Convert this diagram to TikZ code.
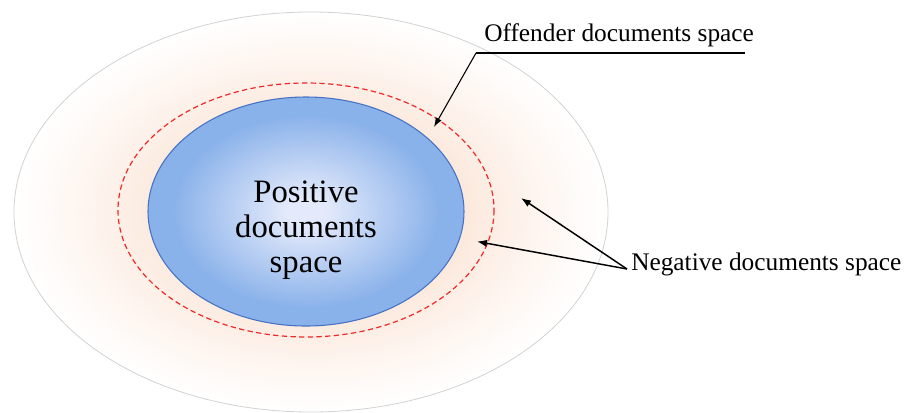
\documentclass[tikz,border=0pt]{standalone}
\usepackage{fontspec}
\setmainfont{Liberation Serif}
\usepackage{tikz}
\usetikzlibrary{arrows.meta}

\definecolor{peachC}{RGB}{251,228,213}
\definecolor{blueC}{RGB}{228,234,251}
\definecolor{blueE}{RGB}{138,178,234}
\definecolor{blueB}{RGB}{68,114,196}
\definecolor{ringC}{RGB}{240,40,40}

\pgfdeclareradialshading{spaceshade}{\pgfpoint{0bp}{0bp}}{color(0bp)=(peachC); color(11bp)=(peachC); color(17bp)=(peachC!50); color(25bp)=(white); color(50bp)=(white)}
\pgfdeclareradialshading{posshade}{\pgfpoint{0bp}{0bp}}{color(0bp)=(blueC); color(3bp)=(blueC); color(21bp)=(blueE); color(25bp)=(blueE); color(50bp)=(blueE)}

\tikzset{
  label text/.style={font=\fontsize{19}{23}\selectfont, inner sep=0.75pt},
  pointer/.style={-{Latex[length=7.5pt, width=5.5pt]}, line width=1.1pt},
}

\begin{document}
\begin{tikzpicture}[x=0.75pt,y=0.75pt,yscale=-1,xscale=1]
\useasboundingbox (0,0) rectangle (906,412);

%Shape: Ellipse [outer space]
\draw [color={rgb, 255:red, 210; green, 210; blue, 210 }, line width=0.6pt, shading=spaceshade] (311,212) ellipse (297 and 200);
%Shape: Ellipse [offender ring]
\draw [color=ringC, dashed, dash pattern=on 4pt off 2.5pt, line width=0.9pt] (306,210) ellipse (188 and 127);
%Shape: Ellipse [positive space]
\draw [color=blueB, line width=0.8pt, shading=posshade] (306,211.5) ellipse (158 and 114.5);

% Text Node
\node (pos) [align=center, font=\fontsize{24.5}{26.5}\selectfont] at (306,230) {Positive\\documents\\space};
% Text Node
\node (off) [label text, anchor=base west] at (483,41) {Offender documents space};
% Text Node
\node (neg) [label text, anchor=west] at (630,264) {Negative documents space};

\coordinate (offcorner) at (476,53);
\coordinate (offend) at (745,53);
\coordinate (offtip) at (434,127);
\coordinate (negstart) at (627,269);
\coordinate (negtipA) at (521,198);
\coordinate (negtipB) at (477,241.5);

%Straight Lines
\draw [line width=0.8pt] (offend) -- (offcorner);
\draw [-{Latex[length=7pt, width=5pt]}, line width=0.8pt] (offcorner) -- (offtip);
\draw [pointer] (negstart) -- (negtipA);
\draw [pointer] (negstart) -- (negtipB);

\end{tikzpicture}
\end{document}
